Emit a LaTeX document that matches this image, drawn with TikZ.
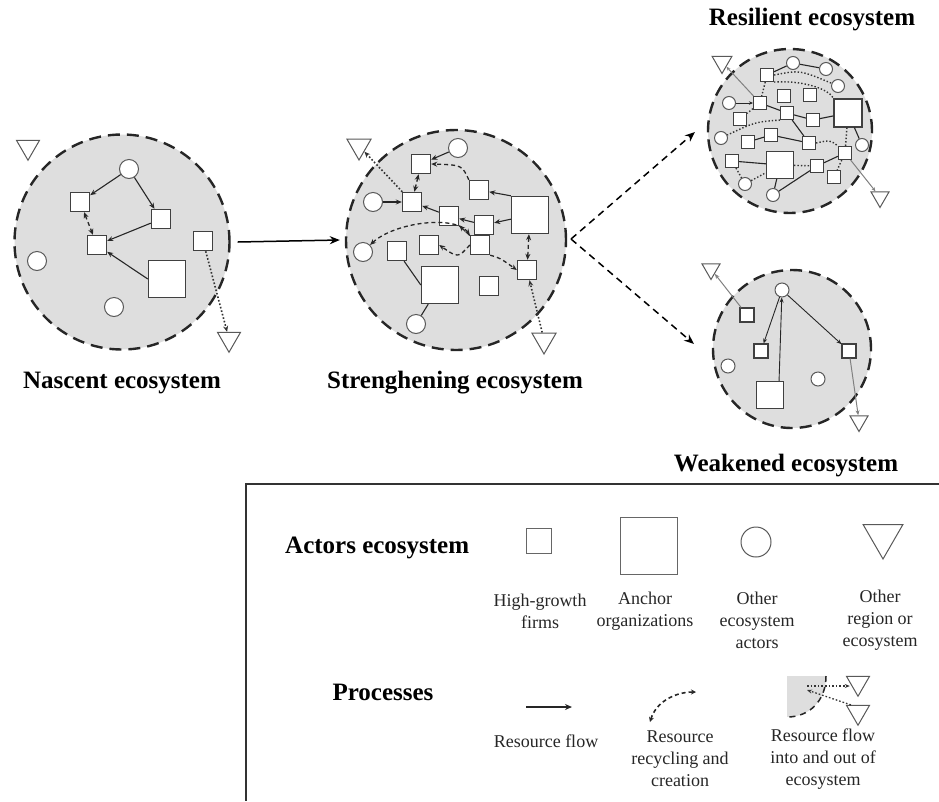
\documentclass[tikz,border=0pt]{standalone}
\usepackage{fontspec}
\setmainfont{Liberation Serif}
\usetikzlibrary{shapes.geometric,arrows.meta}
\begin{document}
\begin{tikzpicture}[x=1pt,y=-1pt,
 >={Stealth[length=6pt,width=5pt]},
 eco/.style={circle, draw=black!85, fill=black!13, line width=2.4pt, dash pattern=on 12pt off 7pt, minimum size=#1, inner sep=0},
 sq/.style={rectangle, draw=black!75, fill=white, line width=1.4pt, minimum size=#1, inner sep=0},
 ssq/.style={rectangle, draw=black!75, fill=white, line width=1.1pt, minimum size=#1, inner sep=0},
 act/.style={circle, draw=black!65, fill=white, line width=1pt, minimum size=#1, inner sep=0},
 tri/.style={regular polygon, regular polygon sides=3, shape border rotate=180, draw=black!65, fill=white, line width=1pt, minimum size=#1, inner sep=0},
 flow/.style={draw=black!85, line width=1.1pt, ->},
 link/.style={draw=black!85, line width=1.1pt},
 recyc/.style={draw=black!85, line width=1.3pt, dash pattern=on 4pt off 3pt},
 outflow/.style={draw=black!80, line width=1.6pt, dotted, ->},
 grayflow/.style={draw=black!50, line width=1pt, ->},
 dots/.style={draw=black!80, line width=1.4pt, dotted},
 title/.style={font=\fontsize{25}{30}\selectfont\bfseries, inner sep=0},
 lbl/.style={font=\fontsize{18}{22}\selectfont, align=center, inner sep=0, text=black!85},
 bigflow/.style={draw=black, line width=1.5pt, -{Stealth[length=10pt,width=8pt]}},
 bigdash/.style={draw=black, line width=1.5pt, dash pattern=on 7pt off 5pt, -{Stealth[length=10pt,width=8pt]}}
]
\useasboundingbox (0,0) rectangle (939,801);

% ---------------- Nascent ----------------
\node[eco=215] (nasc) at (122,242) {};
\node[tri=26.5] (n_t1) at (28,147) {};
\node[act=19] (n_c1) at (129,169) {};
\node[sq=19] (n_a) at (80,202) {};
\node[sq=19] (n_b) at (161,219) {};
\node[sq=19] (n_c) at (97,245) {};
\node[sq=37] (n_d) at (167,279) {};
\node[sq=19] (n_e) at (203,241) {};
\node[act=19] (n_c2) at (37,261) {};
\node[act=19] (n_c3) at (114,307) {};
\node[tri=26.5] (n_t2) at (229,339) {};
\draw[flow] (n_c1) -- (n_a);
\draw[flow] (n_c1) -- (n_b);
\draw[flow] (n_b) -- (n_c);
\draw[flow] (n_d.west) -- (n_c);
\draw[recyc,<->] (n_a) -- (n_c);
\draw[outflow] (n_e) -- (n_t2);
\node[title] (t_nasc) at (122,383) {Nascent ecosystem};

% ---------------- Strengthening ----------------
\node[eco=220] (str) at (456,240) {};
\node[tri=28] (s_t1) at (359,146) {};
\node[act=19] (s_c1) at (458,148) {};
\node[sq=19] (s_1) at (421,164) {};
\node[act=19] (s_c2) at (373,202) {};
\node[sq=19] (s_2) at (412,202) {};
\node[sq=19] (s_3) at (479,190) {};
\node[sq=19] (s_4) at (449,216) {};
\node[sq=19] (s_5) at (484,225) {};
\node[sq=37] (s_6) at (530,215) {};
\node[act=19] (s_c3) at (363,252) {};
\node[sq=19] (s_7) at (397,251) {};
\node[sq=19] (s_8) at (429,245) {};
\node[sq=19] (s_9) at (480,245) {};
\node[sq=19] (s_10) at (527,270) {};
\node[sq=37] (s_11) at (440,285) {};
\node[sq=19] (s_12) at (489,286) {};
\node[act=19] (s_c4) at (416,324) {};
\node[tri=28] (s_t2) at (544,340) {};
\draw[flow] (s_c1) -- (s_1);
\draw[recyc,<->] (s_1) -- (s_2);
\draw[outflow] (s_2) -- (s_t1);
\draw[flow] (s_c2) -- (s_2);
\draw[flow] (s_4) -- (s_2);
\draw[flow] (s_5) -- (s_4);
\draw[flow] (s_6) -- (s_5);
\draw[flow] (s_6.north west) -- (s_3);
\draw[recyc,->] (s_3.north west) .. controls (462,165) .. (s_1.east);
\draw[recyc,<->] (s_c3.north east) .. controls (395,222) and (455,215) .. (s_9.north west);
\draw[recyc,->] (s_9) -- (s_4);
\draw[recyc,->] (s_9.west) .. controls (458,258) .. (s_8.east);
\draw[recyc,->] (s_9.south east) .. controls (500,258) .. (s_10.west);
\draw[recyc,<->] (s_6) -- (s_10);
\draw[outflow] (s_t2) -- (s_10);
\draw[link] (s_7) -- (s_11.west);
\draw[link] (s_11) -- (s_c4);
\node[title] (t_str) at (455,383) {Strenghening ecosystem};

% ---------------- Nascent -> Strengthening ----------------
\draw[bigflow] ([xshift=7pt]nasc.east) -- ([xshift=-5pt]str.west);

% ---------------- Resilient ----------------
\node[eco=164] (res) at (790,131) {};
\node[tri=23] (r_t1) at (722,62) {};
\node[act=13] (r_ca) at (793,63) {};
\node[act=13] (r_cb) at (826,69) {};
\node[act=13] (r_cc) at (838,86) {};
\node[ssq=13] (r_1) at (767,75) {};
\node[ssq=13] (r_2) at (784,96) {};
\node[ssq=13] (r_3) at (810,95) {};
\node[act=13] (r_cd) at (729,103) {};
\node[ssq=13] (r_4) at (760,103) {};
\node[ssq=28] (r_5) at (848,113) {};
\node[ssq=13] (r_6) at (740,119) {};
\node[ssq=13] (r_7) at (787,113) {};
\node[ssq=13] (r_8) at (813,120) {};
\node[act=13] (r_ce) at (721,138) {};
\node[ssq=13] (r_9) at (748,142) {};
\node[ssq=13] (r_10) at (771,135) {};
\node[ssq=13] (r_11) at (809,143) {};
\node[act=13] (r_cf) at (862,145) {};
\node[ssq=13] (r_12) at (732,161) {};
\node[ssq=27] (r_13) at (780,165) {};
\node[ssq=13] (r_14) at (845,153) {};
\node[ssq=13] (r_15) at (817,166) {};
\node[ssq=13] (r_16) at (834,177) {};
\node[act=13] (r_cg) at (745,184) {};
\node[act=13] (r_ch) at (773,195) {};
\node[tri=21] (r_t2) at (880,197) {};
\begin{scope}[>={Stealth[length=4pt,width=3.5pt]}]
\draw[link] (r_1) -- (r_ca);
\draw[link] (r_ca) -- (r_cb);
\draw[flow,line width=0.9pt] (r_cd) -- (r_4);
\draw[link] (r_4) -- (r_7);
\draw[link] (r_7) -- (r_8);
\draw[link] (r_8) -- (r_5);
\draw[link] (r_7) -- (r_11);
\draw[link] (r_9) -- (r_10);
\draw[link] (r_10) -- (r_11);
\draw[link] (r_5) -- (r_cf);
\draw[link] (r_12) -- (r_13);
\draw[link] (r_15) -- (r_14);
\draw[link] (r_13) -- (r_ch);
\draw[link] (r_ch) -- (r_15);
\draw[grayflow] (r_4) -- (r_t1);
\draw[grayflow] (r_14) -- (r_t2);
\draw[dots] (r_1.east) .. controls (800,70) .. (r_cc);
\draw[dots] (r_1.south east) .. controls (805,80) and (830,90) .. (r_5.north west);
\draw[dots] (r_1) -- (r_4);
\draw[dots] (r_4) -- (r_6);
\draw[dots] (r_7.south west) .. controls (755,122) .. (r_ce);
\draw[dots] (r_11.east) .. controls (830,140) .. (r_14.north west);
\draw[dots] (r_5) -- (r_14);
\draw[dots] (r_12) -- (r_cg);
\draw[dots] (r_cg) -- (r_13);
\draw[dots] (r_13) -- (r_15);
\draw[dots] (r_14) -- (r_16);
\end{scope}
\node[title] (t_res) at (812,20) {Resilient ecosystem};

% ---------------- Weakened ----------------
\node[eco=158] (weak) at (792,349) {};
\node[tri=21] (w_t1) at (711,269) {};
\node[act=14] (w_c) at (782,290) {};
\node[ssq=14] (w_1) at (747,315) {};
\node[ssq=14] (w_2) at (761,351) {};
\node[ssq=14] (w_3) at (849,351) {};
\node[act=14] (w_cl) at (728,366) {};
\node[act=14] (w_cr) at (818,379) {};
\node[ssq=27] (w_4) at (770,395) {};
\node[tri=21] (w_t2) at (859,421) {};
\begin{scope}[>={Stealth[length=5pt,width=4pt]}]
\draw[grayflow] (w_1) -- (w_t1);
\draw[flow,line width=0.9pt] (w_c) -- (w_2);
\draw[flow,line width=0.9pt] ([xshift=-5pt]w_4.north east) -- (w_c);
\draw[flow,line width=0.9pt] (w_c) -- (w_3);
\draw[grayflow] (w_3) -- (w_t2);
\end{scope}
\node[title] (t_weak) at (786,466) {Weakened ecosystem};

% ---------------- Fork arrows ----------------
\coordinate (fork) at (571,239);
\coordinate (resin) at (695,132);
\coordinate (weakin) at (694,344);
\draw[bigdash] (fork) -- (resin);
\draw[bigdash] (fork) -- (weakin);

% ---------------- Legend ----------------
\coordinate (bx1) at (939,484);
\coordinate (bx2) at (246,484);
\coordinate (bx3) at (246,801);
\draw[line width=1.3pt, black!80] (bx1) -- (bx2) -- (bx3);

\node[title, anchor=west] (l_actors) at (285,548) {Actors ecosystem};
\node[sq=25, draw=black!60, line width=1.1pt] (l_sq) at (539,541) {};
\node[sq=57, draw=black!60, line width=1.1pt] (l_bsq) at (649,546) {};
\node[act=30] (l_c) at (756,542) {};
\node[tri=46] (l_t) at (883,536) {};
\node[lbl] (l_sq_t) at (540,611) {High-growth\\firms};
\node[lbl] (l_bsq_t) at (645,611) {Anchor\\organizations};
\node[lbl] (l_c_t) at (757,620) {Other\\ecosystem\\actors};
\node[lbl] (l_t_t) at (880,620) {Other\\region or\\ecosystem};

\node[title] (l_proc) at (383,692) {Processes};
\coordinate (rf1) at (526,707);
\coordinate (rf2) at (572,707);
\draw[draw=black!85, line width=2pt, -{Stealth[length=7pt,width=6pt]}] (rf1) -- (rf2);
\node[lbl] (l_rf_t) at (546,741) {Resource flow};

\coordinate (rc1) at (650,722);
\coordinate (rc2) at (696,692);
\draw[recyc, line width=1.6pt, <->, >={Stealth[length=5pt,width=5pt]}] (rc1) .. controls (656,702) and (675,692) .. (rc2);
\node[lbl] (l_rc_t) at (680,759) {Resource\\recycling and\\creation};

\fill[black!13] (787,676) -- (826,676) .. controls (826,700) and (810,717) .. (787,717) -- cycle;
\draw[black!85, line width=1.5pt, dash pattern=on 6pt off 5pt] (826,676) .. controls (826,700) and (810,717) .. (787,717);
\node[tri=26.5] (l_t1) at (858,683) {};
\node[tri=26.5] (l_t2) at (858,712) {};
\coordinate (io1) at (807,686);
\coordinate (io2) at (807,690);
\draw[outflow, line width=1.3pt, >={Stealth[length=5pt,width=4pt]}] (io1) -- (l_t1.west |- io1);
\draw[outflow, line width=1.3pt, >={Stealth[length=5pt,width=4pt]}] (l_t2.north west) -- (io2);
\node[lbl] (l_io_t) at (823,759) {Resource flow\\into and out of\\ecosystem};
\end{tikzpicture}
\end{document}
